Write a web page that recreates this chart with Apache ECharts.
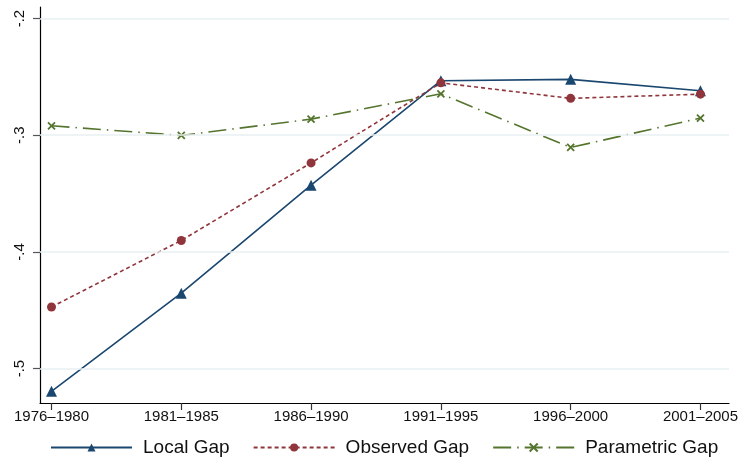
<!DOCTYPE html>
<html>
<head>
<meta charset="utf-8">
<script src="https://cdn.jsdelivr.net/npm/echarts@6/dist/echarts.min.js"></script>
<style>html,body{margin:0;padding:0;background:#fff}#c{width:741px;height:462px}</style>
</head>
<body>
<div id="c"></div>
<script>
var categories = ['1976\u20131980','1981\u20131985','1986\u20131990','1991\u20131995','1996\u20132000','2001\u20132005'];
var localGap = [-0.5195, -0.4354, -0.3428, -0.2533, -0.2521, -0.2619];
var observedGap = [-0.4472, -0.3902, -0.3237, -0.2551, -0.2684, -0.2648];
var parametricGap = [-0.2919, -0.3002, -0.2862, -0.2645, -0.3105, -0.2853];
var yTickValues = [-0.5, -0.4, -0.3, -0.2];
var yTickLabels = ['-.5', '-.4', '-.3', '-.2'];
var xTickValues = [0, 1, 2, 3, 4, 5];

function pairs(arr){ return arr.map(function(v,i){ return [i, v]; }); }

var chart = echarts.init(document.getElementById('c'), null, {renderer:'canvas'});
var font = 'Liberation Sans, Arial, Helvetica, sans-serif';
var navy = '#1a476f', maroon = '#90353b', green = '#55752f';
var xPath = 'path://M0,0L10,10M10,0L0,10';

chart.setOption({
  animation: false,
  backgroundColor: '#fff',
  grid: {left: 40, right: 10, top: 7, bottom: 59, containLabel: false},
  xAxis: {
    type: 'value', min: -0.0885, max: 5.22,
    axisLine: {show: true, onZero: false, lineStyle: {color: '#000', width: 1.2}},
    axisTick: {show: true, length: 7, customValues: xTickValues, lineStyle: {color: '#333', width: 1.2}},
    axisLabel: {show: true, customValues: xTickValues, margin: 6, color: '#111', fontSize: 15, fontFamily: font,
      formatter: function(v){ return categories[Math.round(v)]; }},
    splitLine: {show: false}
  },
  yAxis: {
    type: 'value', min: -0.5295, max: -0.1901,
    axisLine: {show: true, onZero: false, lineStyle: {color: '#000', width: 1.2}},
    axisTick: {show: true, length: 7, customValues: yTickValues, lineStyle: {color: '#555', width: 1.2}},
    axisLabel: {show: true, customValues: yTickValues, rotate: 90, margin: 13, color: '#111', fontSize: 15, fontFamily: font,
      formatter: function(v){ var i = yTickValues.indexOf(v); return i >= 0 ? yTickLabels[i] : ''; }},
    splitLine: {show: false}
  },
  legend: {
    data: ['Local Gap', 'Observed Gap', 'Parametric Gap'],
    left: 45, top: 433,
    itemWidth: 81, itemHeight: 10, itemGap: 23,
    textStyle: {fontSize: 19, fontFamily: font, color: '#111', padding: [0, 0, 0, 6]}
  },
  series: [
    {
      name: 'grid', type: 'line', data: [], z: 0, silent: true,
      markLine: {silent: true, symbol: 'none', label: {show: false}, animation: false,
        lineStyle: {color: '#e9f0f2', width: 1.5, type: 'solid'},
        data: yTickValues.map(function(v){ return {yAxis: v}; })}
    },
    {
      name: 'Local Gap', type: 'line', data: pairs(localGap), z: 3,
      symbol: 'triangle', symbolSize: 11,
      lineStyle: {color: navy, width: 1.6, type: 'solid'},
      itemStyle: {color: navy}
    },
    {
      name: 'Observed Gap', type: 'line', data: pairs(observedGap), z: 3,
      symbol: 'circle', symbolSize: 9,
      lineStyle: {color: maroon, width: 1.6, type: [4, 3]},
      itemStyle: {color: maroon}
    },
    {
      name: 'Parametric Gap', type: 'line', data: pairs(parametricGap), z: 3,
      symbol: xPath, symbolSize: 7,
      lineStyle: {color: green, width: 1.6, type: [18, 6, 1.5, 6]},
      itemStyle: {color: green, borderColor: green, borderWidth: 1.8}
    }
  ]
});
</script>
</body>
</html>
